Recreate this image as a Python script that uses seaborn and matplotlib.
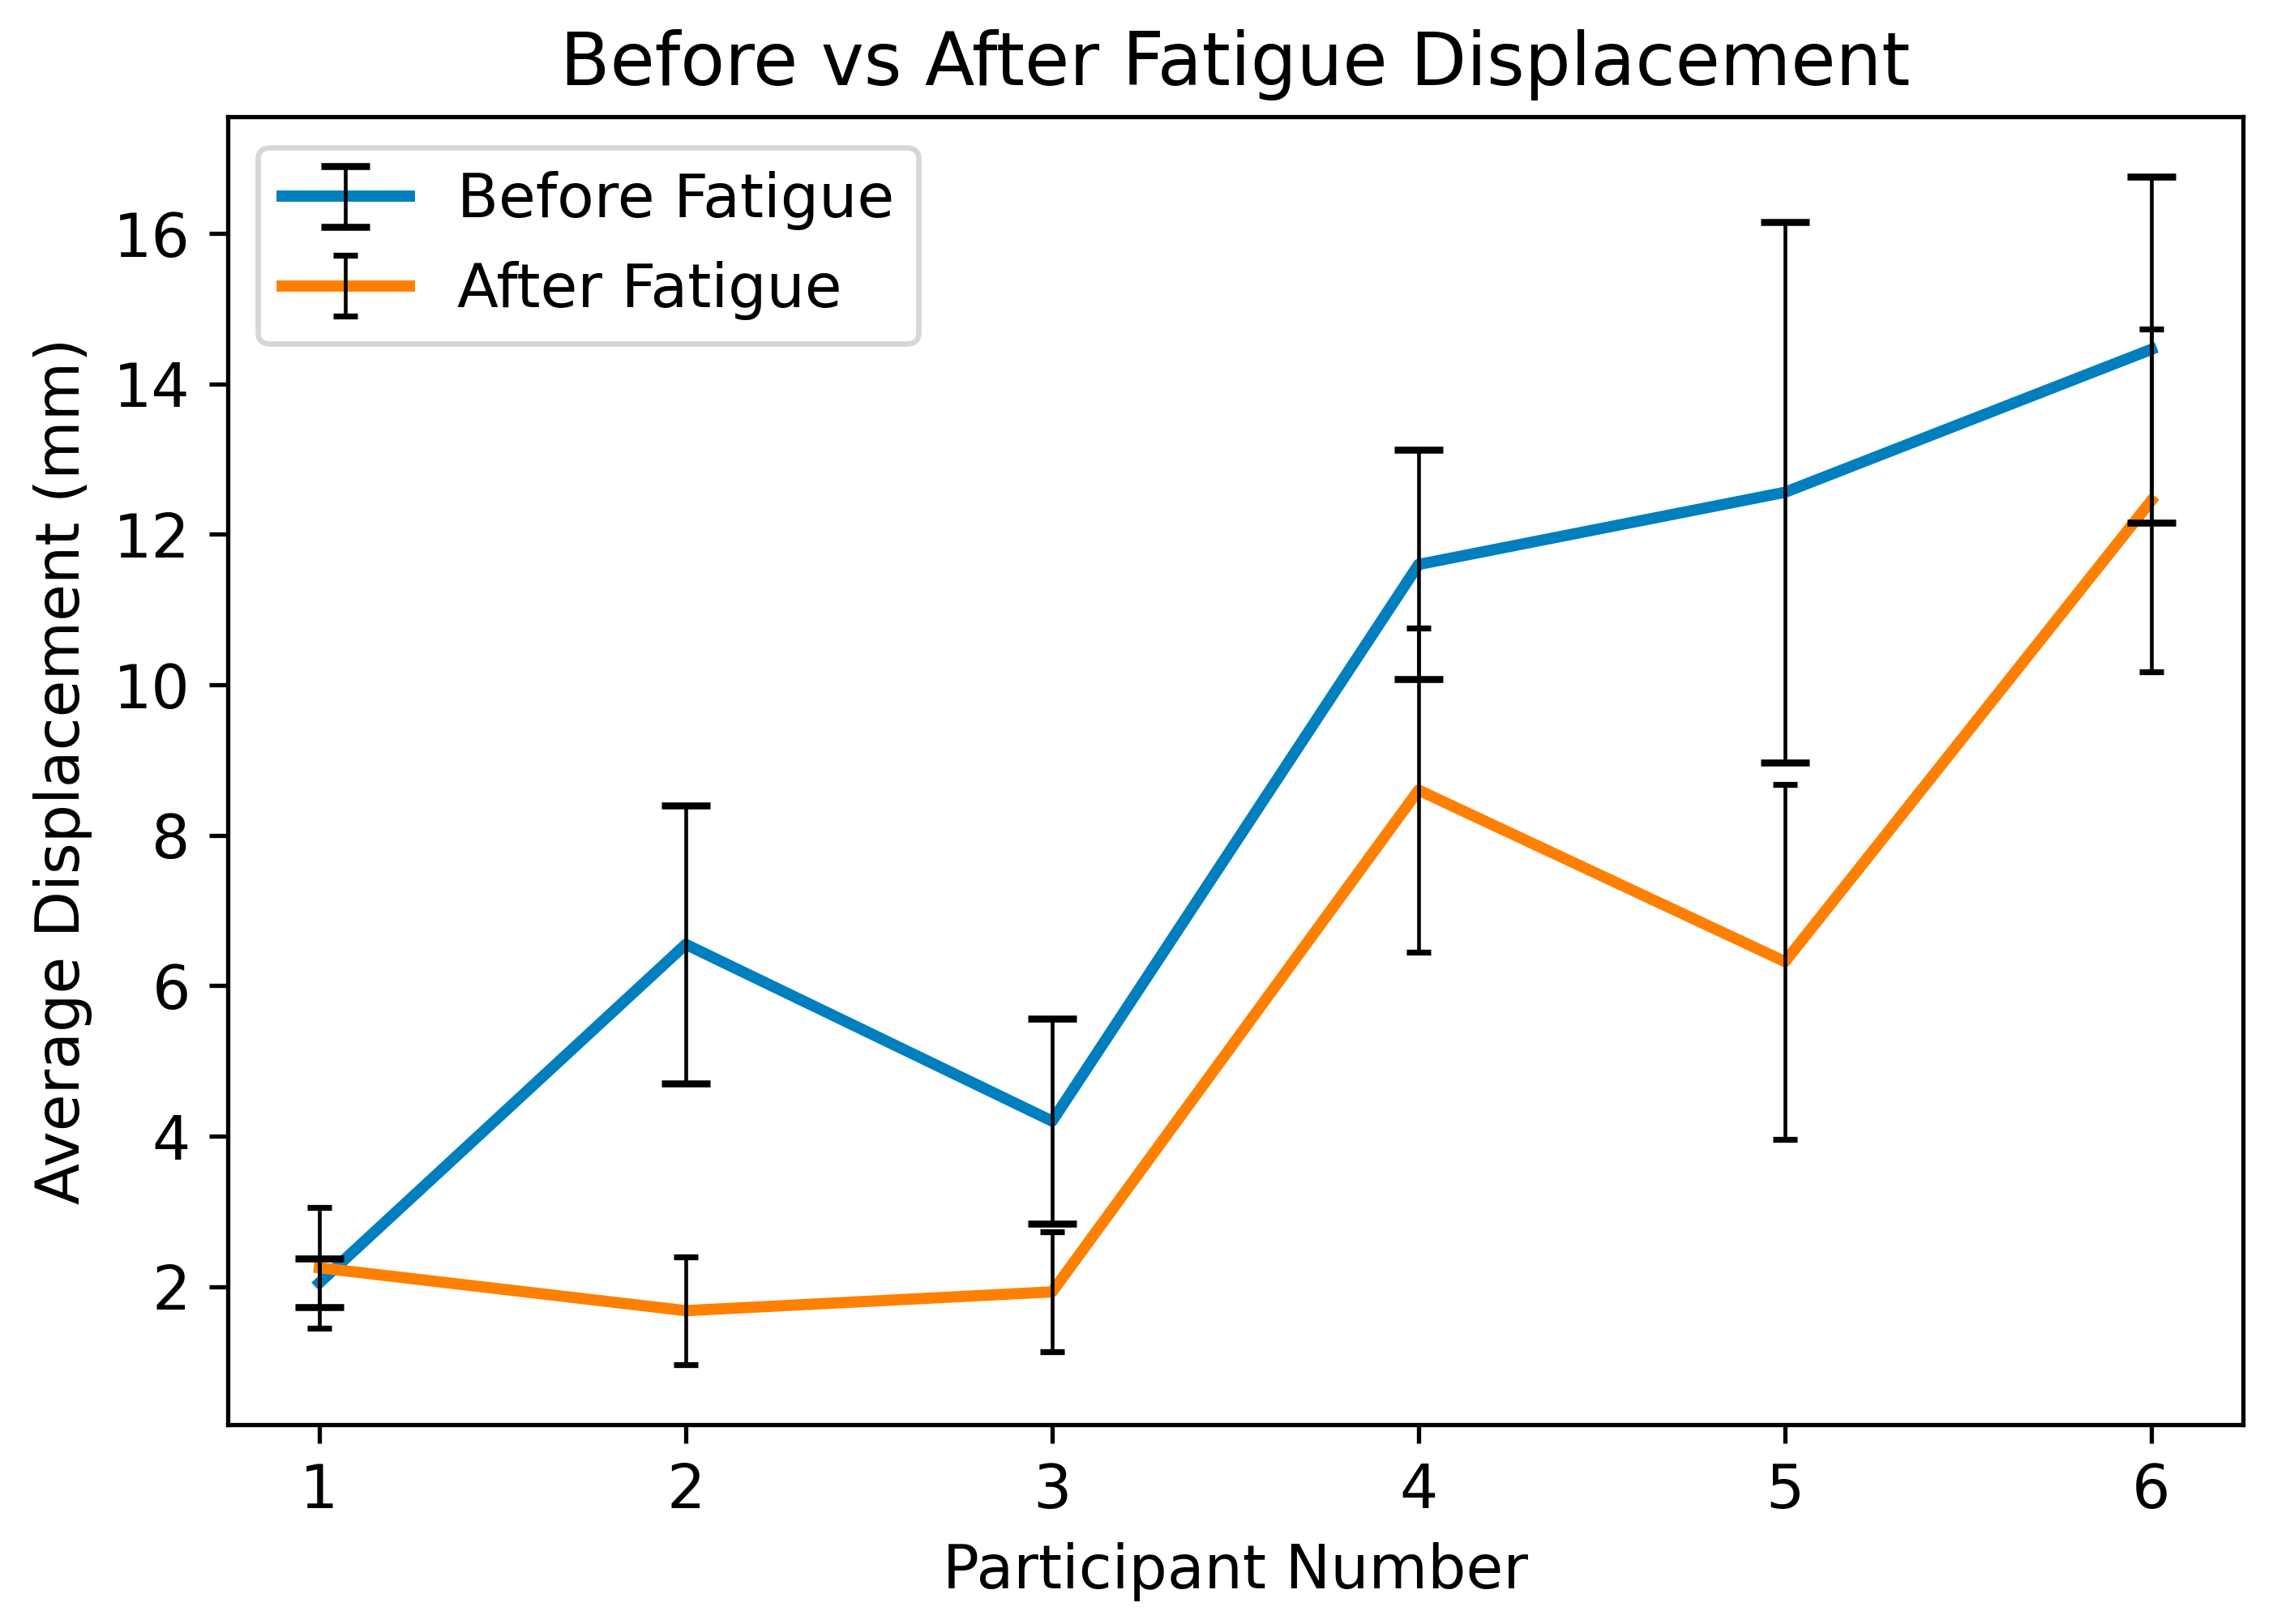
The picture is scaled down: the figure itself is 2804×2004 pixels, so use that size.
import numpy as np
import pandas as pd
import matplotlib
matplotlib.use("Agg")
import matplotlib.pyplot as plt
import seaborn as sns
from matplotlib.legend_handler import HandlerTuple

participants = [1, 2, 3, 4, 5, 6]
before_mean = [2.05, 6.55, 4.20, 11.60, 12.56, 14.46]
before_err = [0.32, 1.85, 1.36, 1.52, 3.59, 2.30]
after_mean = [2.25, 1.68, 1.93, 8.60, 6.32, 12.45]
after_err = [0.80, 0.72, 0.80, 2.15, 2.36, 2.28]

labels = ["Before Fatigue", "After Fatigue"]
title = "Before vs After Fatigue Displacement"
xlabel = "Participant Number"
ylabel = "Average Displacement (mm)"

blue = "#007fbf"
orange = "#ff8000"

df = pd.DataFrame({
    "Participant": participants * 2,
    "Displacement": before_mean + after_mean,
    "Condition": [labels[0]] * 6 + [labels[1]] * 6,
})

DPI = 475
fig = plt.figure(figsize=(2804 / DPI, 2004 / DPI), dpi=DPI)
ax = fig.add_axes([0.1002, 0.123, 0.9868 - 0.1002, 0.928 - 0.123])

sns.lineplot(data=df[df.Condition == labels[0]], x="Participant", y="Displacement",
             color=blue, linewidth=2.1, ax=ax, legend=False)
sns.lineplot(data=df[df.Condition == labels[1]], x="Participant", y="Displacement",
             color=orange, linewidth=2.1, ax=ax, legend=False)
line_b, line_a = ax.lines[0], ax.lines[1]

eb_b = ax.errorbar(participants, before_mean, yerr=before_err, fmt="none",
                   ecolor="black", elinewidth=0.7, capsize=4.6, capthick=1.3)
eb_a = ax.errorbar(participants, after_mean, yerr=after_err, fmt="none",
                   ecolor="black", elinewidth=0.7, capsize=2.3, capthick=1.1)

FS = 11.3
ax.set_xticks(participants)
ax.set_title(title, fontsize=13.6)
ax.set_xlabel(xlabel, fontsize=FS)
ax.set_ylabel(ylabel, fontsize=FS)
ax.tick_params(labelsize=FS)

ax.legend([(line_b, eb_b), (line_a, eb_a)], labels, loc="upper left",
          handler_map={tuple: HandlerTuple(ndivide=1)}, fontsize=FS,
          handlelength=2.1)

fig.savefig("out.png", dpi=DPI)
